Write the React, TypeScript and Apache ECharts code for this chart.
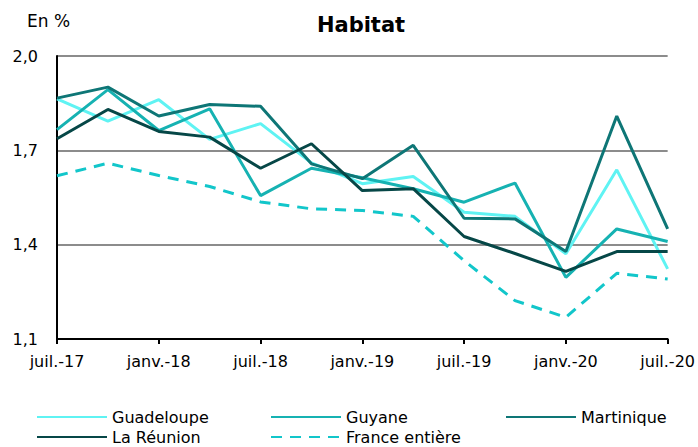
import React, { useEffect, useRef } from "react";
import * as echarts from "echarts";

const categories = [
  "juil.-17", "oct.-17", "janv.-18", "avr.-18", "juil.-18", "oct.-18", "janv.-19",
  "avr.-19", "juil.-19", "oct.-19", "janv.-20", "avr.-20", "juil.-20",
];
const guadeloupe = [1.864, 1.793, 1.861, 1.735, 1.785, 1.66, 1.594, 1.617, 1.503, 1.49, 1.371, 1.638, 1.323];
const guyane = [1.766, 1.893, 1.763, 1.832, 1.556, 1.643, 1.613, 1.578, 1.535, 1.596, 1.296, 1.45, 1.41];
const martinique = [1.866, 1.901, 1.809, 1.846, 1.84, 1.657, 1.61, 1.716, 1.484, 1.482, 1.378, 1.809, 1.45];
const reunion = [1.737, 1.83, 1.76, 1.742, 1.643, 1.721, 1.572, 1.578, 1.426, 1.372, 1.315, 1.378, 1.378];
const france = [1.619, 1.659, 1.62, 1.585, 1.536, 1.514, 1.509, 1.49, 1.349, 1.222, 1.169, 1.309, 1.291];

const FONT = "DejaVu Sans";

export default function App() {
  const ref = useRef<HTMLDivElement>(null);
  useEffect(() => {
    if (!ref.current) return;
    const chart = echarts.init(ref.current, undefined, { renderer: "svg" });
    const mk = (name: string, data: number[], color: string, dashed = false) => ({
      name,
      type: "line",
      data,
      symbol: "none",
      showSymbol: false,
      lineStyle: { color, width: 3, type: dashed ? [11, 8] : "solid" },
      itemStyle: { color },
    });
    const leg = (name: string, left: number, top: number) => ({
      data: [name],
      left,
      top,
      padding: 0,
      itemWidth: 70,
      itemHeight: 14,
      itemStyle: { opacity: 0 },
      textStyle: { fontFamily: FONT, fontSize: 16, lineHeight: 18, color: "#000" },
    });
    chart.setOption({
      animation: false,
      title: {
        text: "Habitat",
        left: 361,
        textAlign: "center",
        top: 14,
        padding: 0,
        textStyle: { fontFamily: FONT, fontSize: 21, fontWeight: "bold", color: "#000" },
      },
      graphic: [
        {
          type: "text",
          left: 27,
          top: 12,
          style: { text: "En %", fontFamily: FONT, fontSize: 17, fill: "#000" },
        },
      ],
      legend: [
        leg("Guadeloupe", 36, 408),
        leg("La Réunion", 36, 428),
        leg("Guyane", 270, 408),
        leg("France entière", 270, 428),
        leg("Martinique", 505, 408),
      ],
      grid: { left: 57, right: 30, top: 56, bottom: 108 },
      xAxis: {
        type: "category",
        data: categories,
        boundaryGap: false,
        axisLine: { lineStyle: { color: "#000", width: 2 } },
        axisTick: { interval: 1, length: 5, lineStyle: { color: "#000", width: 2 } },
        axisLabel: {
          interval: 1,
          margin: 14,
          fontFamily: FONT,
          fontSize: 16,
          color: "#000",
        },
        splitLine: { show: false },
      },
      yAxis: {
        type: "value",
        min: 1.1,
        max: 2.0,
        interval: 0.3,
        axisLine: { show: true, lineStyle: { color: "#000", width: 2 } },
        axisTick: { show: false },
        axisLabel: {
          margin: 19,
          fontFamily: FONT,
          fontSize: 16,
          color: "#000",
          formatter: (v: number) => v.toFixed(1).replace(".", ","),
        },
        splitLine: { lineStyle: { color: "#8c8c8c", width: 2 } },
      },
      series: [
        mk("Guadeloupe", guadeloupe, "#5ff3f3"),
        mk("Guyane", guyane, "#16b2b2"),
        mk("Martinique", martinique, "#0e7676"),
        mk("La Réunion", reunion, "#064747"),
        mk("France entière", france, "#12c6ca", true),
      ],
    });
    return () => chart.dispose();
  }, []);
  return (
    <div
      ref={ref}
      style={{ position: "absolute", left: 0, top: 0, width: 698, height: 447, overflow: "hidden" }}
    />
  );
}
